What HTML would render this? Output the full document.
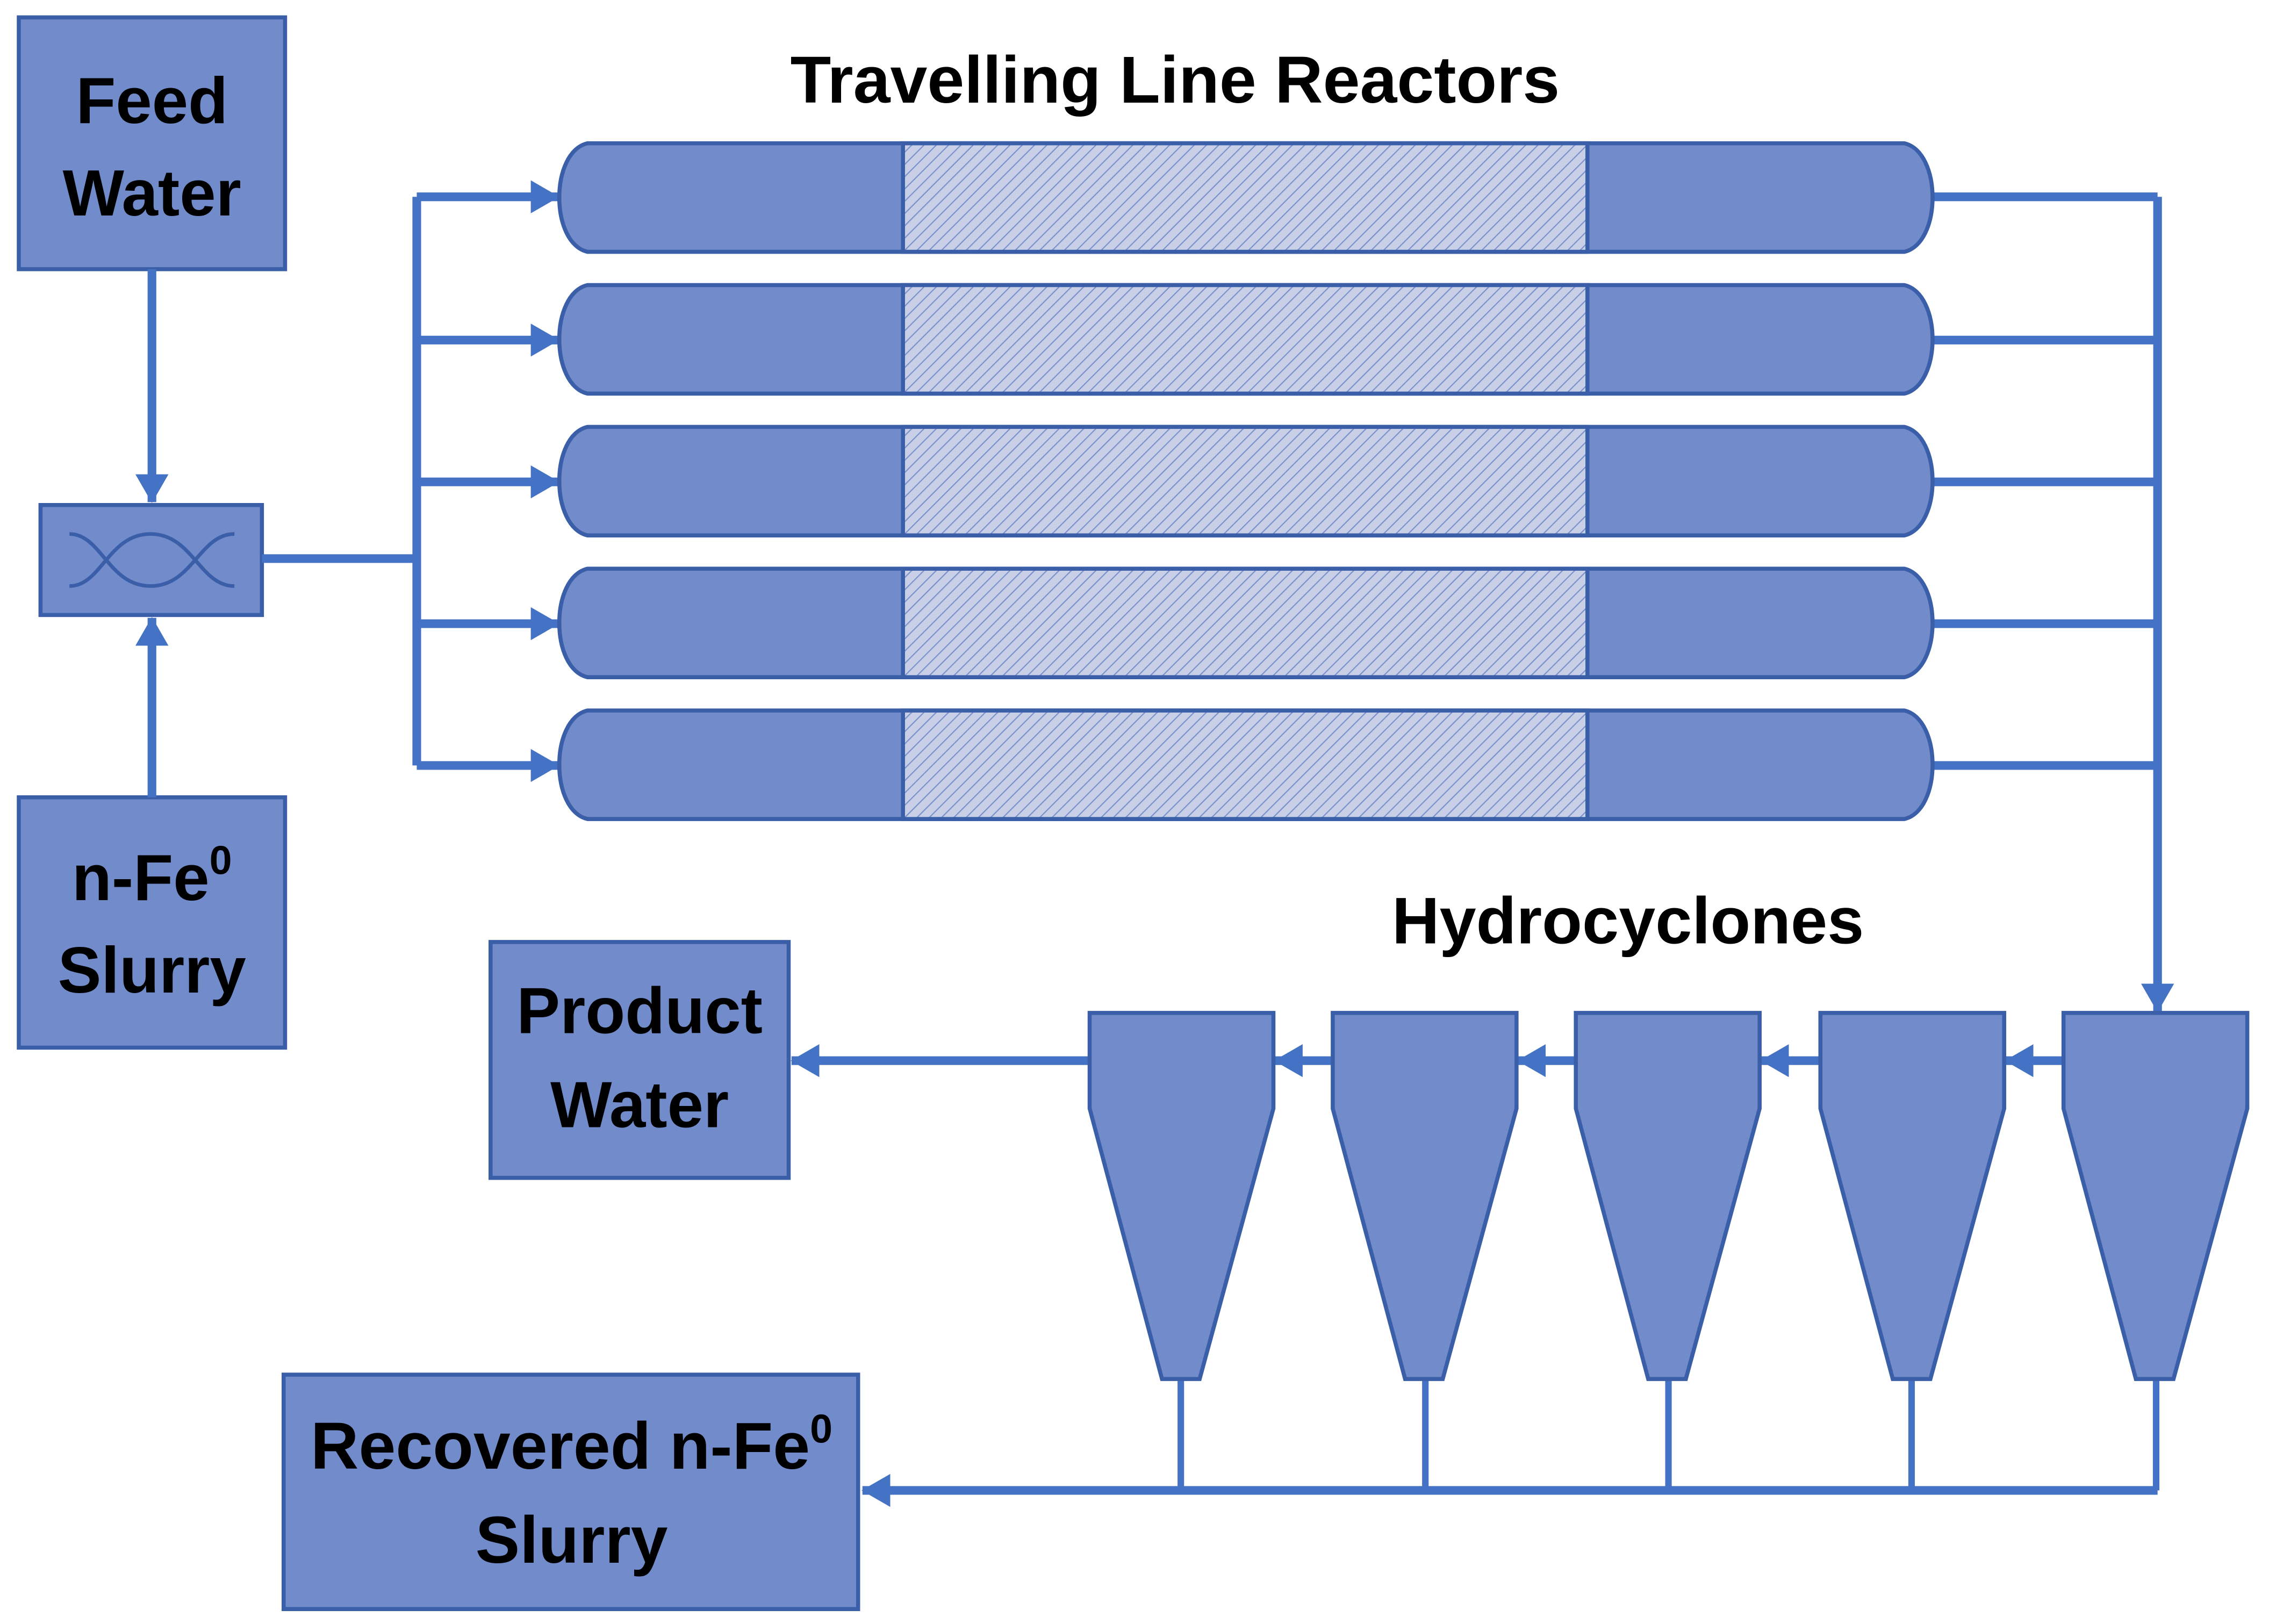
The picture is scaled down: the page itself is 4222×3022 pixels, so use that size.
<!DOCTYPE html>
<html><head><meta charset="utf-8"><style>
html,body{margin:0;padding:0;background:#fff;}
svg{display:block;}
text{font-family:"Liberation Sans",sans-serif;font-weight:bold;fill:#000;}
</style></head><body>
<svg width="4222" height="3022" viewBox="0 0 1568 1122.3" xmlns="http://www.w3.org/2000/svg">
<defs>
<pattern id="h" patternUnits="userSpaceOnUse" width="6" height="6" patternTransform="rotate(45)">
<rect width="6" height="6" fill="#C8CFE6"/>
<line x1="0" y1="0" x2="0" y2="6" stroke="#7A91CE" stroke-width="1.6"/>
</pattern>
<marker id="a" markerWidth="4" markerHeight="4" refX="3.2" refY="2" orient="auto" markerUnits="strokeWidth">
<path d="M0,0.1 L3.3,2 L0,3.9 Z" fill="#4472C4"/>
</marker>
</defs>
<g fill="#718BCB" stroke="#3A5FA8" stroke-width="2.8">
<rect x="13" y="12" width="184" height="174"/>
<rect x="28" y="349" width="153" height="76"/>
<rect x="13" y="551" width="184" height="173"/>
<rect x="339" y="651" width="206" height="163"/>
<rect x="196" y="950" width="397" height="162"/>
</g>
<path d="M48,369 C70,369 75,405 104,405 C133,405 138,369 162,369 M48,405 C70,405 75,369 104,369 C133,369 138,405 162,405" fill="none" stroke="#3A5FA8" stroke-width="2.5"/>
<text x="105" y="85" font-size="45" text-anchor="middle">Feed</text>
<text x="105" y="149" font-size="45" text-anchor="middle">Water</text>
<text x="105" y="622" font-size="45" text-anchor="middle">n-Fe<tspan font-size="28" dy="-18">0</tspan></text>
<text x="105" y="686" font-size="45" text-anchor="middle" dy="0">Slurry</text>
<text x="442" y="714" font-size="45" text-anchor="middle">Product</text>
<text x="442" y="779" font-size="45" text-anchor="middle">Water</text>
<text x="395" y="1015" font-size="46" text-anchor="middle">Recovered n-Fe<tspan font-size="28" dy="-18">0</tspan></text>
<text x="395" y="1080" font-size="46" text-anchor="middle">Slurry</text>
<text x="812" y="71" font-size="46" text-anchor="middle">Travelling Line Reactors</text>
<text x="1125" y="652" font-size="45.5" text-anchor="middle">Hydrocyclones</text>
<g stroke="#4472C4" stroke-width="6" fill="none">
<line x1="105" y1="186" x2="105" y2="347" marker-end="url(#a)"/>
<line x1="105" y1="551" x2="105" y2="427" marker-end="url(#a)"/>
<polyline points="181,386 288,386"/>
<polyline points="288,136 288,529"/>
<line x1="288" y1="136" x2="386" y2="136" marker-end="url(#a)"/>
<line x1="288" y1="235" x2="386" y2="235" marker-end="url(#a)"/>
<line x1="288" y1="333" x2="386" y2="333" marker-end="url(#a)"/>
<line x1="288" y1="431" x2="386" y2="431" marker-end="url(#a)"/>
<line x1="288" y1="529" x2="386" y2="529" marker-end="url(#a)"/>
<line x1="1335" y1="136" x2="1491" y2="136"/>
<line x1="1335" y1="235" x2="1491" y2="235"/>
<line x1="1335" y1="333" x2="1491" y2="333"/>
<line x1="1335" y1="431" x2="1491" y2="431"/>
<line x1="1335" y1="529" x2="1491" y2="529"/>
<line x1="1491" y1="136" x2="1491" y2="699" marker-end="url(#a)"/>
<line x1="753" y1="733" x2="547" y2="733" marker-end="url(#a)"/>
<line x1="921" y1="733" x2="881" y2="733" marker-end="url(#a)"/>
<line x1="1089" y1="733" x2="1049" y2="733" marker-end="url(#a)"/>
<line x1="1258" y1="733" x2="1217" y2="733" marker-end="url(#a)"/>
<line x1="1426" y1="733" x2="1386" y2="733" marker-end="url(#a)"/>
<line x1="1491" y1="1030" x2="596" y2="1030" marker-end="url(#a)"/>
</g>
<g stroke="#4472C4" stroke-width="4.5">
<line x1="816" y1="953" x2="816" y2="1030"/>
<line x1="985" y1="953" x2="985" y2="1030"/>
<line x1="1153" y1="953" x2="1153" y2="1030"/>
<line x1="1321" y1="953" x2="1321" y2="1030"/>
<line x1="1490" y1="953" x2="1490" y2="1030"/>
</g>
<g stroke="#3A5FA8" stroke-width="2.8">
<g id="r">
<path d="M406,99 L1316,99 C1342,105 1342,168 1316,174 L406,174 C380,168 380,105 406,99 Z" fill="#718BCB"/>
<rect x="624" y="99" width="473" height="75" fill="url(#h)"/>
</g>
<use href="#r" y="98"/>
<use href="#r" y="196"/>
<use href="#r" y="294"/>
<use href="#r" y="392"/>
<g fill="#718BCB">
<path id="c" d="M753,700 L880,700 L880,766 L829,953 L803,953 L753,766 Z"/>
<use href="#c" x="168"/>
<use href="#c" x="336"/>
<use href="#c" x="505"/>
<use href="#c" x="673"/>
</g>
</g>
</svg>
</body></html>
